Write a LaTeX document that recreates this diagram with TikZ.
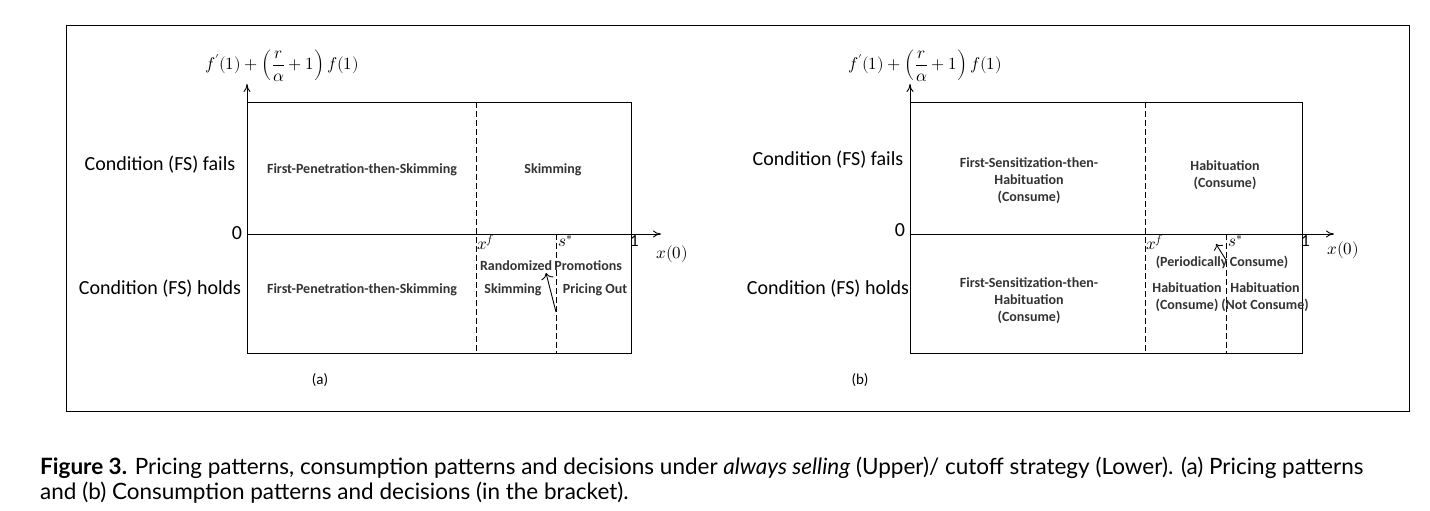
\documentclass[tikz,border=0pt]{standalone}
\usepackage{fontspec}
\setmainfont{Carlito}
\newfontfamily\capf{Lato}
\usepackage{unicode-math}
\setmathfont{Latin Modern Math}
\usetikzlibrary{arrows.meta}
\begin{document}
\begin{tikzpicture}[x=1pt,y=-1pt,
  ax/.style={-{To[length=8pt,width=7pt]},line width=0.9pt},
  dsh/.style={dashed,dash pattern=on 6pt off 3pt,line width=0.9pt},
  cond/.style={font=\fontsize{20}{24}\selectfont,anchor=center},
  reg/.style={font=\bfseries\fontsize{14}{17}\selectfont,align=center,text=black!80},
  mth/.style={font=\fontsize{17}{20}\selectfont}]
\useasboundingbox (0,0) rectangle (1430,511);
\draw[line width=0.9pt] (66,25) rectangle (1409,411);
% Panel a
\draw[line width=0.9pt] (247,102) rectangle (631,353);
\coordinate (ay0) at (247,353); \coordinate (ay1) at (247,84);
\coordinate (ax0) at (247,234); \coordinate (ax1) at (661,234);
\draw[ax] (ay0) -- (ay1);
\draw[ax] (ax0) -- (ax1);
\draw[dsh] (476,102) -- (476,353);
\draw[dsh] (556,234) -- (556,353);
\node[mth,anchor=south west,inner sep=0pt] (ya) at (205,82) {$f'(1)+\left(\dfrac{r}{\alpha}+1\right)f(1)$};
\node[cond] (fa) at (160,165) {Condition (FS) fails};
\node[cond] (ha) at (160,289) {Condition (FS) holds};
\node[font=\fontsize{20}{24}\selectfont] (z0a) at (237,233) {0};
\node[reg] (a1) at (362,170) {First-Penetration-then-Skimming};
\node[reg] (a2) at (553,170) {Skimming};
\node[reg] (a3) at (362,290) {First-Penetration-then-Skimming};
\node[reg] (a4) at (551,266) {Randomized\,Promotions};
\node[reg] (a5) at (513,290) {Skimming};
\node[reg] (a6) at (595,290) {Pricing Out};
\node[mth,anchor=north west,inner sep=1pt] (xfa) at (476,234) {$x^f$};
\node[mth,anchor=north west,inner sep=1pt] (ssa) at (557,234) {$s^*$};
\node[mth,anchor=north west,inner sep=1pt] (oa) at (629,234) {1};
\node[mth] (x0a) at (672,254) {$x(0)$};
\coordinate (arA0) at (556,312); \coordinate (arA1) at (546,273);
\draw[-{To[length=6pt]},line width=0.9pt] (arA0) -- (arA1);
\node[font=\fontsize{15}{18}\selectfont\rmfamily] (la) at (320,380) {(a)};
% Panel b
\draw[line width=0.9pt] (910,102) rectangle (1302,353);
\coordinate (by0) at (910,353); \coordinate (by1) at (910,84);
\coordinate (bx0) at (910,234); \coordinate (bx1) at (1334,234);
\draw[ax] (by0) -- (by1);
\draw[ax] (bx0) -- (bx1);
\draw[dsh] (1145,102) -- (1145,353);
\draw[dsh] (1226,234) -- (1226,353);
\node[mth,anchor=south west,inner sep=0pt] (yb) at (848,82) {$f'(1)+\left(\dfrac{r}{\alpha}+1\right)f(1)$};
\node[cond] (fb) at (828,160) {Condition (FS) fails};
\node[cond] (hb) at (828,289) {Condition (FS) holds};
\node[font=\fontsize{20}{24}\selectfont] (z0b) at (900,230) {0};
\node[reg] (b1) at (1029,181) {First-Sensitization-then-\\Habituation\\(Consume)};
\node[reg] (b2) at (1225,175) {Habituation\\(Consume)};
\node[reg] (b3) at (1029,301) {First-Sensitization-then-\\Habituation\\(Consume)};
\node[reg] (b4) at (1222,262) {(Periodically\,Consume)};
\node[reg] (b5) at (1187,297) {Habituation\\(Consume)};
\node[reg] (b6) at (1265,297) {Habituation\\(Not Consume)};
\node[mth,anchor=north west,inner sep=1pt] (xfb) at (1145,234) {$x^f$};
\node[mth,anchor=north west,inner sep=1pt] (ssb) at (1227,234) {$s^*$};
\node[mth,anchor=north west,inner sep=1pt] (ob) at (1300,234) {1};
\node[mth] (x0b) at (1343,250) {$x(0)$};
\coordinate (arB0) at (1226,260); \coordinate (arB1) at (1216,244);
\draw[-{To[length=5pt]},line width=0.9pt] (arB0) -- (arB1);
\node[font=\fontsize{15}{18}\selectfont\rmfamily] (lb) at (860,380) {(b)};
% caption
\node[anchor=west,inner sep=0pt,font=\capf\fontsize{22.5}{26}\selectfont] (c1) at (40,468) {\textbf{Figure 3.} Pricing patterns, consumption patterns and decisions under \textit{always selling} (Upper)/ cutoff strategy (Lower). (a) Pricing patterns};
\node[anchor=west,inner sep=0pt,font=\capf\fontsize{22.5}{26}\selectfont] (c2) at (40,493) {and (b) Consumption patterns and decisions (in the bracket).};
\end{tikzpicture}
\end{document}
